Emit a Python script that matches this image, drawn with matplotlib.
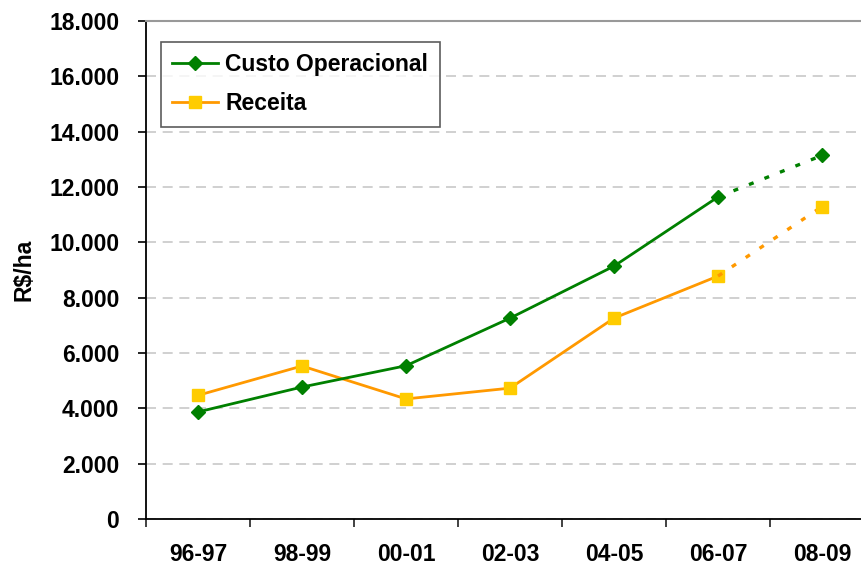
import matplotlib
matplotlib.use("Agg")
import matplotlib.pyplot as plt
from matplotlib.ticker import FuncFormatter, FixedLocator

categories = ["96-97", "98-99", "00-01", "02-03", "04-05", "06-07", "08-09"]
custo = [3870, 4770, 5540, 7260, 9140, 11640, 13140]
receita = [4470, 5530, 4340, 4730, 7260, 8780, 11290]
yticks = [0, 2000, 4000, 6000, 8000, 10000, 12000, 14000, 16000, 18000]

plt.rcParams['font.family'] = ['Liberation Sans', 'DejaVu Sans']
FS = 16.5

fig = plt.figure(figsize=(8.61, 5.65), dpi=100)
W, H = 861, 565
ax = fig.add_axes([146 / W, 1 - 519 / H, 728 / W, 498 / H])

x = list(range(len(categories)))
green = "#008000"
orange = "#FF9900"
yellow = "#FFCC00"

# solid parts
ax.plot(x[:6], custo[:6], color=green, lw=2, marker="D", ms=7.5,
        mfc=green, mec=green, label="Custo Operacional", zorder=4)
ax.plot(x[:6], receita[:6], color=orange, lw=2, marker="s", ms=8.5,
        mfc=yellow, mec=yellow, label="Receita", zorder=3)
# projected (dotted) parts
ax.plot(x[5:], custo[5:], color=green, lw=2.4, ls=(0, (1.5, 3.5)),
        marker="D", ms=7.5, mfc=green, mec=green, markevery=[1], zorder=4)
ax.plot(x[5:], receita[5:], color=orange, lw=2.4, ls=(0, (1.5, 3.5)),
        marker="s", ms=8.5, mfc=yellow, mec=yellow, markevery=[1], zorder=3)

ax.set_xlim(-0.5, len(categories) - 0.5)
ax.set_ylim(0, 18000)
ax.set_yticks(yticks)
ax.yaxis.set_major_formatter(FuncFormatter(lambda v, p: f"{int(v):,}".replace(",", ".")))
ax.set_xticks(x)
ax.set_xticklabels(categories)
ax.xaxis.set_minor_locator(FixedLocator([i - 0.5 for i in range(len(categories) + 1)]))
ax.tick_params(axis="x", which="major", length=0, pad=17)
ax.tick_params(axis="x", which="minor", length=5.5, width=1.2, direction="out", color="#222222")
ax.tick_params(axis="y", length=5.8, width=1.2, direction="out", pad=13.5)
for lab in ax.get_xticklabels() + ax.get_yticklabels():
    lab.set_fontweight("bold")
    lab.set_fontsize(FS)

ax.grid(axis="y", color="#C8C8C8", ls=(0, (6, 4)), lw=1.2)
ax.set_axisbelow(True)
ax.spines["right"].set_visible(False)
ax.spines["top"].set_color("#999999")
ax.spines["top"].set_linewidth(1.5)
ax.spines["left"].set_linewidth(1.3)
ax.spines["bottom"].set_linewidth(1.3)

ax.set_ylabel("R$/ha", fontsize=FS, fontweight="bold")
ax.yaxis.set_label_coords((36 - 146) / 728, 0.5)

leg = ax.legend(loc="upper left", bbox_to_anchor=(15 / 728, 1 - 21 / 498),
                frameon=True, fancybox=False, edgecolor="#333333",
                prop={"weight": "bold", "size": FS}, handlelength=2.0,
                borderpad=0.5, labelspacing=0.7, handletextpad=0.3,
                borderaxespad=0)
leg.get_frame().set_linewidth(1.2)

fig.savefig("out.png", dpi=100)
